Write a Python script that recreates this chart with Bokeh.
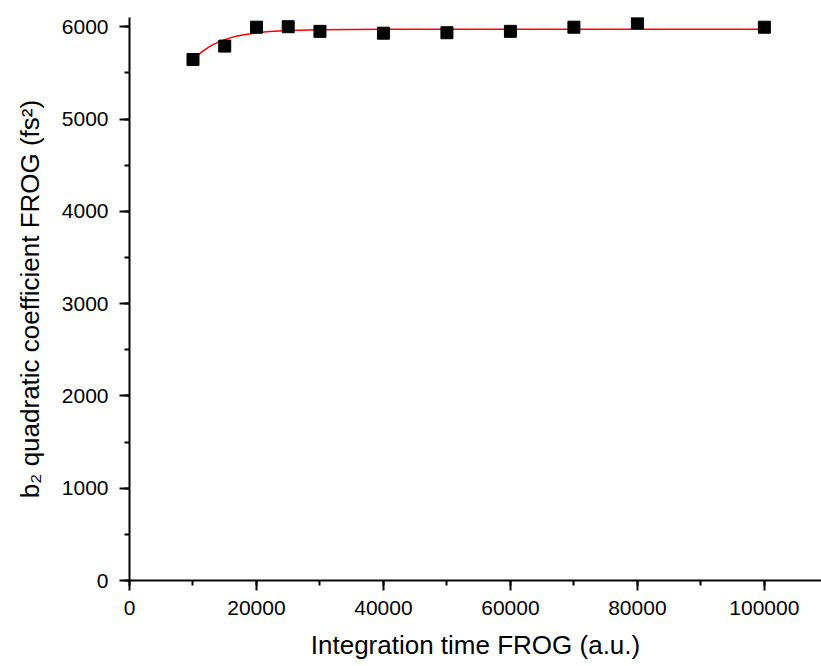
from bokeh.plotting import figure
from bokeh.embed import file_html
from bokeh.resources import INLINE
from bokeh.models import Range1d, SingleIntervalTicker, BasicTickFormatter

# measured data points
time_x = [10000, 15000, 20000, 25000, 30000, 40000, 50000, 60000, 70000, 80000, 100000]
b2_y = [5645, 5790, 5995, 6000, 5950, 5930, 5935, 5950, 5995, 6040, 5995]

# fit curve
fit_x = [10000, 11000, 12000, 13000, 14000, 15000, 16000, 17000, 18000, 20000,
         22000, 25000, 30000, 40000, 60000, 100000]
fit_y = [5640, 5705, 5758, 5800, 5834, 5860, 5882, 5900, 5914, 5934,
         5948, 5960, 5968, 5972, 5973, 5973]

p = figure(width=821, height=666, output_backend="svg", toolbar_location=None,
           x_range=Range1d(0, 109000), y_range=Range1d(0, 6100),
           min_border_left=129, min_border_right=0, min_border_top=17, min_border_bottom=86)
p.outline_line_color = None
p.grid.grid_line_color = None
p.background_fill_color = "white"
p.border_fill_color = "white"

p.line(fit_x, fit_y, line_color="#ff0000", line_width=1.5)
p.scatter(time_x, b2_y, marker="square", size=12, fill_color="black", line_color="black")

p.xaxis.ticker = SingleIntervalTicker(interval=20000, num_minor_ticks=2)
p.yaxis.ticker = SingleIntervalTicker(interval=1000, num_minor_ticks=2)
p.xaxis.formatter = BasicTickFormatter(use_scientific=False)
p.yaxis.formatter = BasicTickFormatter(use_scientific=False)

for ax in (p.xaxis, p.yaxis):
    ax.axis_line_width = 2
    ax.major_tick_line_width = 2
    ax.minor_tick_line_width = 2
    ax.major_tick_out = 10
    ax.major_tick_in = 0
    ax.minor_tick_out = 5
    ax.minor_tick_in = 0
    ax.major_label_text_font = "Liberation Sans"
    ax.major_label_text_font_size = "21px"
    ax.major_label_text_color = "black"
    ax.axis_label_text_font = "Liberation Sans"
    ax.axis_label_text_font_size = "26px"
    ax.axis_label_text_font_style = "normal"
    ax.axis_label_text_color = "black"

p.xaxis.major_label_standoff = 10
p.yaxis.major_label_standoff = 11
p.xaxis.axis_label = "Integration time FROG (a.u.)"
p.yaxis.axis_label = "b\u2082 quadratic coefficient FROG (fs\u00b2)"
p.xaxis.axis_label_standoff = 12
p.yaxis.axis_label_standoff = 14

open("out.html", "w").write(file_html(p, INLINE))
